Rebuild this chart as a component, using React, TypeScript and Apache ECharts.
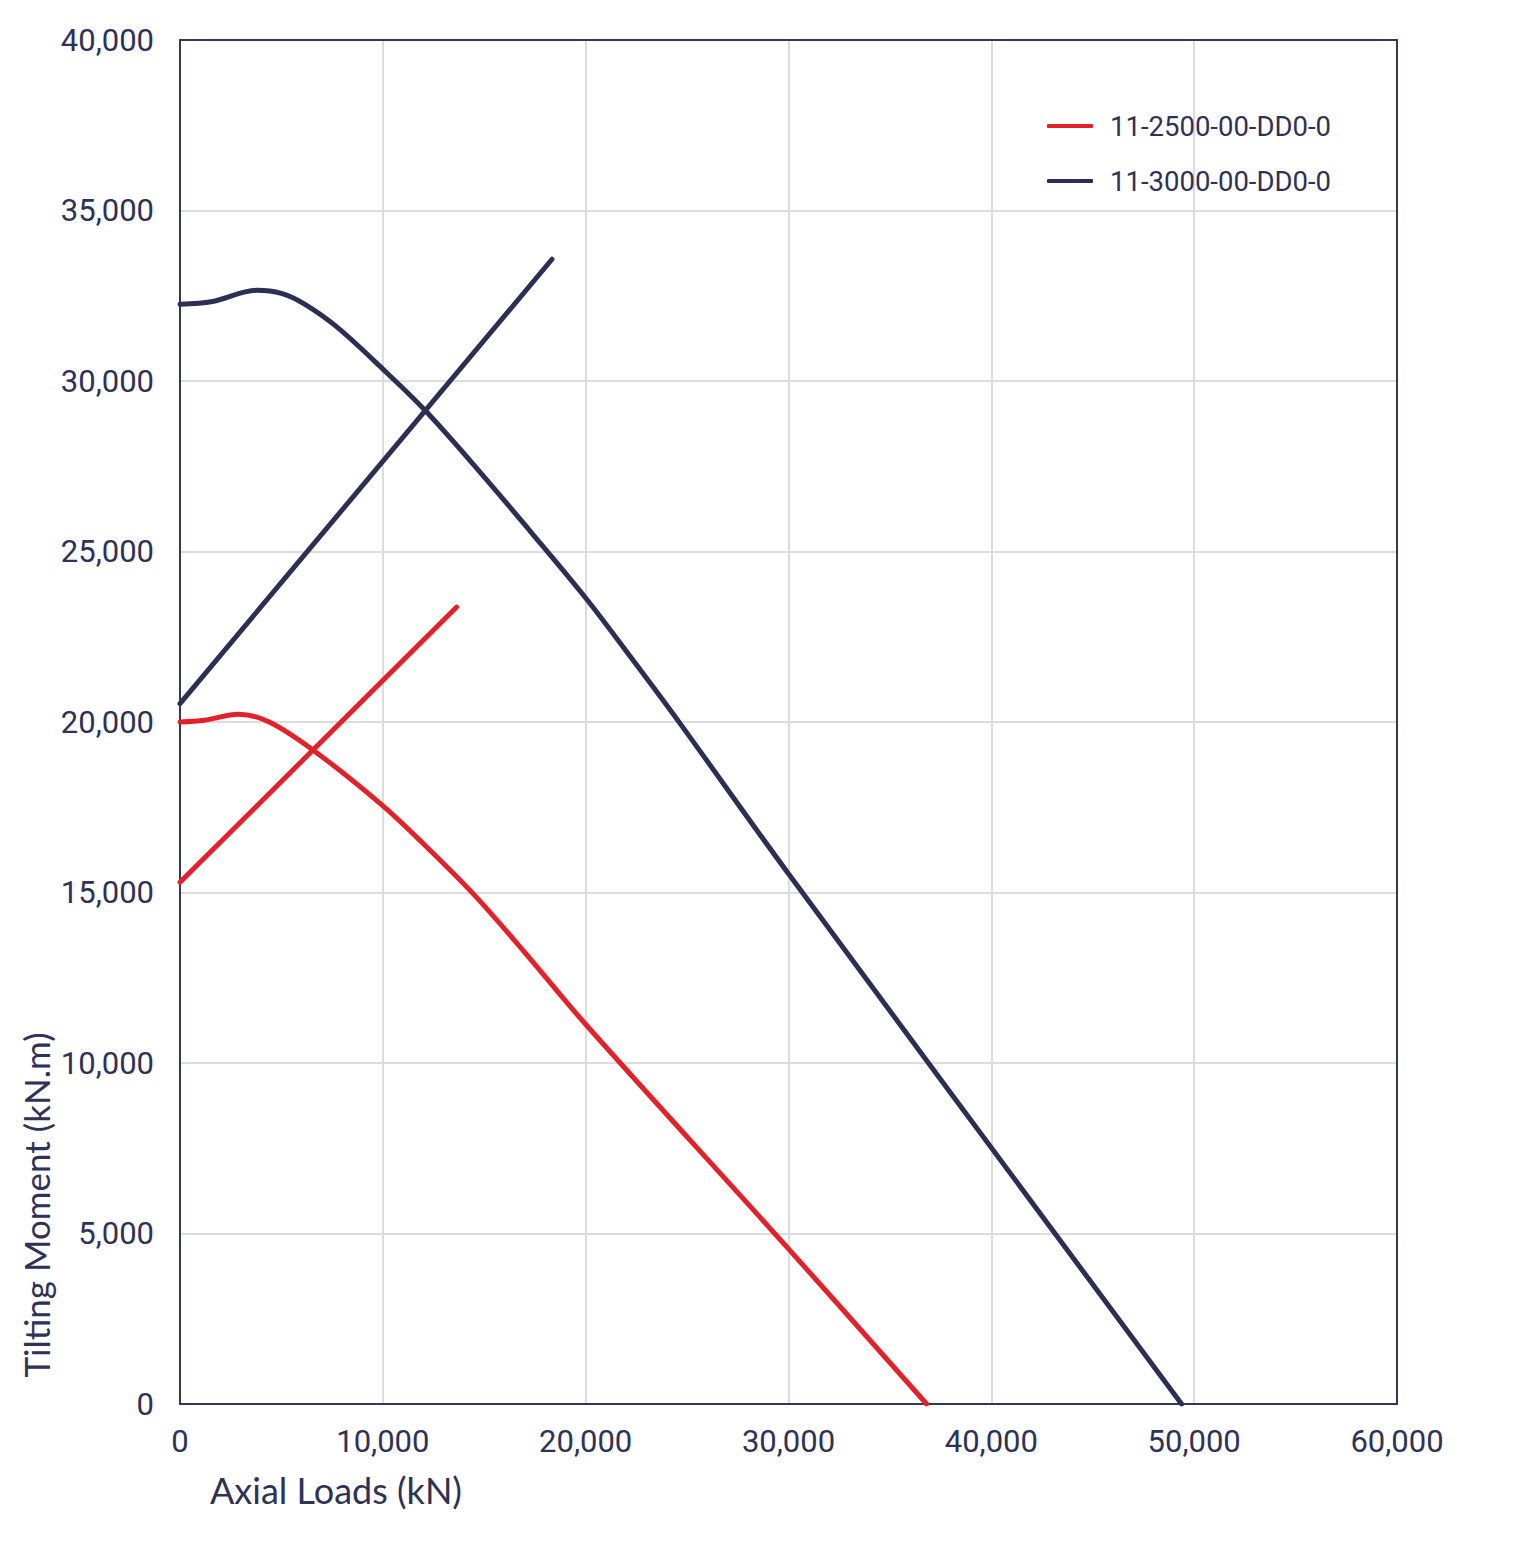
import React, { useEffect, useRef } from "react";
import * as echarts from "echarts";

const seriesNames = ["11-2500-00-DD0-0", "11-3000-00-DD0-0"];
const colors = ["#e3212a", "#2c2e54"];

// 11-2500: envelope curve + straight line
const red2500Curve: [number, number][] = [
  [0, 20000], [1200, 20050], [2900, 20230], [4400, 20000], [6600, 19160],
  [9890, 17600], [12000, 16430], [14460, 14960], [16930, 13290], [20050, 11100],
  [30000, 4550], [36810, 0],
];
const red2500Line: [number, number][] = [[0, 15300], [13640, 23370]];

// 11-3000: envelope curve + straight line
const navy3000Curve: [number, number][] = [
  [0, 32250], [1600, 32330], [3800, 32660], [5000, 32570], [6100, 32270],
  [7700, 31600], [10000, 30350], [12080, 29140], [14790, 27330], [17260, 25600],
  [20050, 23600], [22350, 21800], [24650, 19960], [30000, 15550], [49380, 0],
];
const navy3000Line: [number, number][] = [[0, 20540], [18340, 33570]];

const xTicks = { min: 0, max: 60000, interval: 10000 };
const yTicks = { min: 0, max: 40000, interval: 5000 };

const xTitle = "Axial Loads (kN)";
const yTitle = "Tilting Moment (kN.m)";

const axisColor = "#33365f";
const textColor = "#2e3158";
const tickFont = "Roboto, 'Noto Sans', sans-serif";
const titleFont = "Lato, 'Noto Sans', sans-serif";

export default function App() {
  const ref = useRef<HTMLDivElement>(null);
  useEffect(() => {
    document.body.style.margin = "0";
    const chart = echarts.init(ref.current!, null, { renderer: "svg" });
    const fmt = (v: number) => v.toLocaleString("en-US");
    const mkLine = (name: string, data: [number, number][], color: string, smooth: number | boolean) => ({
      name,
      type: "line",
      data,
      smooth,
      symbol: "none",
      xAxisIndex: 0,
      yAxisIndex: 0,
      lineStyle: { color, width: 5, cap: "round" },
      itemStyle: { color },
    });
    const frameAxis = {
      type: "value",
      axisLine: { show: true, onZero: false, lineStyle: { color: axisColor, width: 2 } },
      axisTick: { show: false },
      axisLabel: { show: false },
      splitLine: { show: false },
    };
    chart.setOption({
      animation: false,
      backgroundColor: "#ffffff",
      grid: { left: 180, top: 40, right: 121, bottom: 155 },
      legend: {
        data: seriesNames,
        orient: "vertical",
        left: 1047,
        top: 111,
        padding: 0,
        itemGap: 25,
        itemWidth: 46,
        itemHeight: 4,
        icon: "roundRect",
        textStyle: {
          fontFamily: tickFont, fontSize: 27.5, color: textColor, lineHeight: 30,
          padding: [0, 0, 0, 12],
        },
      },
      xAxis: [
        {
          type: "value",
          ...xTicks,
          axisLine: { show: true, onZero: false, lineStyle: { color: axisColor, width: 2 } },
          axisTick: { show: false },
          splitLine: { show: true, lineStyle: { color: "#dcdcdc", width: 2 } },
          axisLabel: {
            formatter: fmt, margin: 22, fontFamily: tickFont, fontSize: 31, color: textColor,
            showMaxLabel: true, showMinLabel: true,
          },
        },
        { ...frameAxis, position: "top", ...xTicks },
      ],
      yAxis: [
        {
          type: "value",
          ...yTicks,
          axisLine: { show: true, onZero: false, lineStyle: { color: axisColor, width: 2 } },
          axisTick: { show: false },
          splitLine: { show: true, lineStyle: { color: "#dcdcdc", width: 2 } },
          axisLabel: {
            formatter: fmt, margin: 26, fontFamily: tickFont, fontSize: 31, color: textColor,
          },
        },
        { ...frameAxis, position: "right", ...yTicks },
      ],
      graphic: [
        {
          type: "text", left: 210, top: 1472,
          style: { text: xTitle, fontFamily: titleFont, fontSize: 36, fill: textColor },
        },
        {
          type: "text", x: 36, y: 1205, rotation: Math.PI / 2,
          style: {
            text: yTitle, fontFamily: titleFont, fontSize: 35, fill: textColor,
            textAlign: "center", textVerticalAlign: "middle",
          },
        },
      ],
      series: [
        mkLine(seriesNames[0], red2500Curve, colors[0], 0.35),
        mkLine(seriesNames[0], red2500Line, colors[0], false),
        mkLine(seriesNames[1], navy3000Curve, colors[1], 0.35),
        mkLine(seriesNames[1], navy3000Line, colors[1], false),
      ],
    });
    return () => chart.dispose();
  }, []);
  return <div ref={ref} style={{ width: 1518, height: 1559 }} />;
}
